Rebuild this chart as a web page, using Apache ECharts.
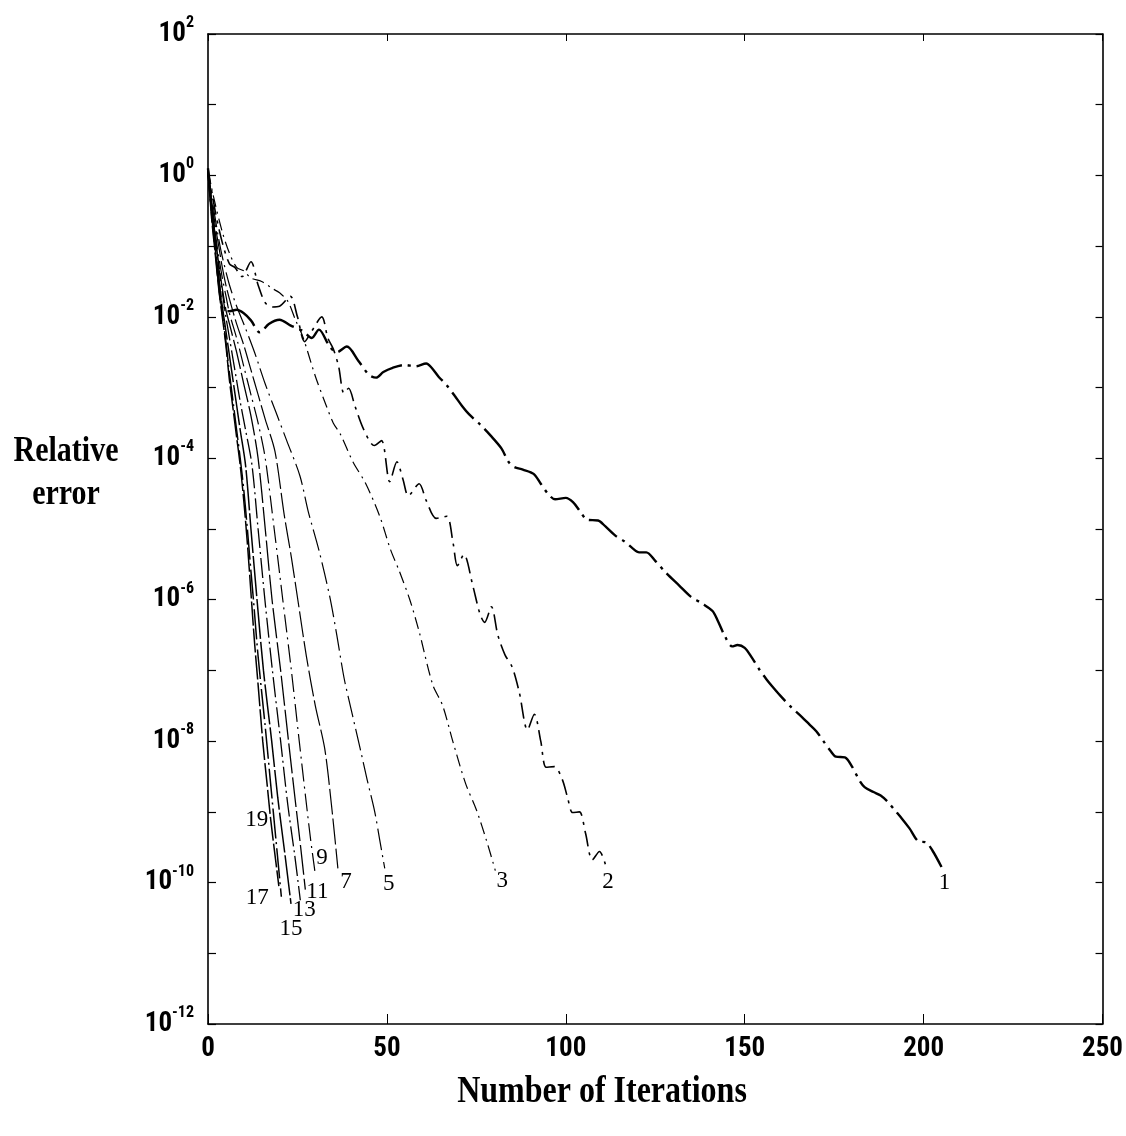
<!DOCTYPE html>
<html>
<head>
<meta charset="utf-8">
<script src="https://cdn.jsdelivr.net/npm/echarts@6/dist/echarts.min.js"></script>
<style>
html,body{margin:0;padding:0;background:#fff;}
#c{width:1126px;height:1136px;}
</style>
</head>
<body>
<div id="c"></div>
<script>
// x: iteration number, y: log10(relative error)
const xTicks = [0, 50, 100, 150, 200, 250];
const yExponents = [2, 0, -2, -4, -6, -8, -10, -12];
const curveNames = ['1', '2', '3', '5', '7', '9', '11', '13', '15', '17', '19'];

const curve1 = [[0,0.1],[1,-0.45],[2,-0.95],[3,-1.5],[4.2,-1.9],[6,-1.92],[8,-1.9],[10,-1.95],[12,-2.05],[14.5,-2.22],[17,-2.1],[20,-2.04],[23,-2.12],[26.5,-2.2],[29,-2.3],[31,-2.18],[34,-2.42],[36,-2.5],[38.8,-2.42],[42,-2.62],[45,-2.82],[47,-2.86],[49,-2.78],[51.6,-2.72],[55,-2.68],[58,-2.7],[61,-2.66],[62.5,-2.72],[64.5,-2.85],[66.6,-2.96],[69,-3.12],[71,-3.26],[73,-3.38],[76,-3.52],[79,-3.68],[82,-3.86],[84,-4.05],[85.5,-4.12],[88,-4.16],[91,-4.22],[93,-4.36],[95,-4.5],[97,-4.58],[100,-4.56],[102,-4.62],[104,-4.75],[106,-4.87],[109,-4.88],[111,-4.96],[114,-5.1],[116.5,-5.18],[118.6,-5.27],[120.5,-5.33],[122.5,-5.33],[125,-5.45],[128,-5.62],[131.7,-5.8],[135,-5.96],[138,-6.05],[141,-6.16],[142.5,-6.3],[144.5,-6.52],[146.5,-6.66],[148,-6.64],[150,-6.68],[152,-6.82],[154,-6.98],[156,-7.12],[157.6,-7.22],[160,-7.36],[163,-7.52],[166,-7.66],[168,-7.76],[170,-7.86],[172,-8.0],[174,-8.14],[175.5,-8.22],[178,-8.23],[180,-8.36],[182,-8.55],[183.5,-8.65],[186,-8.72],[188,-8.77],[190,-8.86],[192,-8.98],[194,-9.1],[196,-9.23],[198.7,-9.42],[200.6,-9.43],[202.5,-9.55],[205,-9.78]];

const curve2 = [[0,0.1],[2,-0.5],[4,-0.95],[6,-1.25],[7.5,-1.3],[9.5,-1.43],[12,-1.22],[14,-1.55],[16,-1.8],[18,-1.86],[20,-1.85],[23,-1.71],[25,-2.0],[27,-2.35],[29,-2.2],[31.8,-2.0],[33.5,-2.3],[35,-2.45],[36.5,-2.7],[38,-3.08],[39.3,-3.01],[41,-3.25],[43.5,-3.59],[46.5,-3.82],[48.5,-3.75],[50.8,-4.33],[52.8,-4.05],[54.5,-4.3],[56,-4.53],[59,-4.36],[61,-4.6],[63.8,-4.85],[66.7,-4.82],[68.5,-5.2],[69.7,-5.52],[71.5,-5.36],[74,-5.8],[76,-6.2],[77.3,-6.32],[79.2,-6.1],[81,-6.5],[83,-6.78],[85,-6.95],[87,-7.31],[89.3,-7.84],[91.2,-7.62],[93,-8.0],[94.5,-8.37],[96.8,-8.36],[99,-8.54],[100.5,-8.8],[101.9,-9.01],[103.8,-9.0],[105.5,-9.3],[107.4,-9.68],[109.4,-9.56],[111.2,-9.77]];

const curve3 = [[0,0.05],[2,-0.4],[4,-0.8],[6,-1.1],[8,-1.3],[10,-1.35],[12,-1.45],[15,-1.5],[18,-1.6],[20,-1.66],[22.3,-1.78],[24.5,-2.05],[26.5,-2.28],[30,-2.84],[33,-3.25],[35,-3.5],[37,-3.66],[40.6,-4.06],[44,-4.35],[48,-4.82],[51,-5.29],[53.5,-5.6],[56.4,-6.0],[59,-6.45],[62.8,-7.2],[65.6,-7.5],[68.4,-8.0],[72,-8.6],[75,-8.97],[77.8,-9.4],[80.3,-9.83]];

const curve5 = [[0,0.05],[1,-0.3],[2,-0.6],[3,-0.9],[4,-1.15],[6,-1.55],[8,-1.85],[10,-2.1],[13,-2.5],[16,-2.95],[19,-3.35],[22,-3.75],[25.7,-4.25],[28,-4.75],[31,-5.3],[34,-5.95],[36,-6.5],[38,-7.1],[40,-7.55],[42.5,-8.1],[44.5,-8.55],[46.6,-9.0],[48,-9.4],[49.4,-9.8]];

const curve7 = [[0,0.05],[1,-0.35],[2,-0.7],[3,-1.0],[4,-1.3],[5,-1.55],[6,-1.75],[8,-2.1],[10,-2.4],[12,-2.75],[14,-3.1],[16,-3.45],[18.7,-3.9],[21.3,-4.8],[23.3,-5.4],[25.1,-6.0],[27.5,-6.8],[30,-7.5],[32.6,-8.1],[34.5,-8.9],[36.3,-9.8]];

const curve9 = [[0,0.05],[1,-0.4],[2,-0.8],[3,-1.15],[4,-1.45],[5,-1.7],[6,-1.95],[8,-2.3],[10,-2.7],[12,-3.1],[14,-3.5],[16,-4.0],[18.5,-5.0],[20.9,-6.0],[23.3,-7.0],[25.5,-8.0],[27.3,-8.8],[28.7,-9.4],[29.9,-9.85]];

const curve11 = [[0,0.05],[1,-0.4],[2,-0.85],[3,-1.25],[4,-1.6],[5,-1.9],[6,-2.1],[8,-2.5],[10,-2.95],[12,-3.4],[14,-4.0],[16,-5.0],[17.9,-6.0],[20.3,-7.0],[22.5,-8.0],[24.3,-8.8],[25.9,-9.5],[27.2,-10.1]];

const curve13 = [[0,0.05],[1,-0.45],[2,-0.9],[3,-1.3],[4,-1.65],[5,-2.0],[6,-2.3],[7,-2.6],[8,-2.9],[9,-3.2],[10.5,-3.6],[12.3,-4.1],[14,-5.0],[15.9,-6.0],[18,-7.0],[20.3,-8.0],[22.3,-8.9],[24.2,-9.6],[25.8,-10.25]];

const curve15 = [[0,0.05],[1,-0.5],[2,-1.0],[3,-1.45],[4,-1.85],[5,-2.2],[6,-2.55],[7,-2.9],[8,-3.25],[9,-3.6],[10.5,-4.1],[12,-5.0],[13.7,-6.0],[15.5,-7.0],[17.8,-8.0],[19.5,-8.8],[21.5,-9.6],[23.2,-10.3]];

const curve17 = [[0,0.05],[1,-0.55],[2,-1.05],[3,-1.55],[4,-1.95],[5,-2.35],[6,-2.8],[7,-3.2],[8,-3.6],[9,-4.0],[10,-4.45],[11,-5.0],[12,-5.6],[12.7,-6.0],[14,-6.8],[16,-7.8],[17.5,-8.6],[19,-9.4],[20.5,-10.2]];

const curve19 = [[0,0.05],[1,-0.6],[2,-1.1],[3,-1.6],[4,-2.0],[5,-2.4],[6,-2.9],[7,-3.3],[8,-3.7],[9,-4.1],[10,-4.6],[11,-5.2],[12,-5.9],[13,-6.6],[14,-7.2],[15.3,-8.0],[16.5,-8.6],[17.5,-9.1],[18.7,-9.6],[19.8,-10.05]];

const curveData = [curve1, curve2, curve3, curve5, curve7, curve9, curve11, curve13, curve15, curve17, curve19];

// styles (not data)
const styles = [
  {w: 2.4, dash: [34, 6, 3, 6]},
  {w: 1.6, dash: [16, 6, 3, 6]},
  {w: 1.2, dash: [12, 5, 2, 5]},
  {w: 1.2, dash: [22, 5, 2, 5]},
  {w: 1.2, dash: [26, 4]},
  {w: 1.2, dash: [18, 5, 2, 5]},
  {w: 1.3, dash: [30, 4]},
  {w: 1.3, dash: [20, 4, 2, 4]},
  {w: 1.5, dash: [40, 3]},
  {w: 1.5, dash: [30, 4, 2, 4]},
  {w: 1.5, dash: [24, 3]}
];
const labelOffsets = [[3,16],[2,16],[7,10],[4,16],[8,14],[7,-14],[12,2],[4,10],[0,25],[-24,1],[-22,-66]];

const narrow = "'Liberation Sans Narrow','Roboto Condensed','DejaVu Sans Condensed','Arial Narrow',sans-serif";
const serif = "'Liberation Serif','DejaVu Serif',serif";

const series = curveData.map((d, i) => ({
  name: curveNames[i],
  type: 'line',
  data: d,
  showSymbol: false,
  smooth: 0.3,
  xAxisIndex: 0,
  yAxisIndex: 0,
  lineStyle: {color: '#000', width: styles[i].w, type: styles[i].dash},
  z: 2,
  markPoint: {
    symbol: 'circle',
    symbolSize: 1,
    itemStyle: {color: 'rgba(0,0,0,0)'},
    label: {
      show: true, formatter: curveNames[i], color: '#000',
      fontFamily: serif, fontSize: 23, offset: labelOffsets[i]
    },
    data: [{coord: d[d.length - 1]}]
  }
}));

const chart = echarts.init(document.getElementById('c'), null, {renderer: 'canvas'});
const axisLineStyle = {show: true, onZero: false, lineStyle: {color: '#000', width: 1.6}};
chart.setOption({
  animation: false,
  backgroundColor: '#fff',
  grid: {left: 208, right: 22, top: 34, bottom: 112, containLabel: false},
  xAxis: [
    {
      type: 'value', min: 0, max: 250, interval: 50, position: 'bottom',
      axisLine: axisLineStyle,
      axisTick: {show: true, inside: true, length: 10, lineStyle: {color: '#000', width: 1}},
      splitLine: {show: false},
      axisLabel: {
        margin: 12, color: '#000', fontFamily: narrow, fontWeight: 'bold', fontSize: 27,
        formatter: v => xTicks.indexOf(v) >= 0 ? String(v) : ''
      }
    },
    {
      type: 'value', min: 0, max: 250, interval: 50, position: 'top',
      axisLine: axisLineStyle,
      axisTick: {show: true, inside: true, length: 7, lineStyle: {color: '#000', width: 1}},
      splitLine: {show: false}, axisLabel: {show: false}
    }
  ],
  yAxis: [
    {
      type: 'value', min: -12, max: 2, interval: 1, position: 'left',
      axisLine: axisLineStyle,
      axisTick: {show: true, inside: true, length: 8, lineStyle: {color: '#000', width: 1.2}},
      splitLine: {show: false},
      axisLabel: {
        margin: 14, color: '#000',
        formatter: v => yExponents.indexOf(v) >= 0 ? '{b|10}{s|' + v + '}' : '',
        rich: {
          b: {fontFamily: narrow, fontWeight: 'bold', fontSize: 27, lineHeight: 27, color: '#000'},
          s: {fontFamily: narrow, fontWeight: 'bold', fontSize: 16, lineHeight: 16, padding: [0, 0, 22, 0], color: '#000'}
        }
      }
    },
    {
      type: 'value', min: -12, max: 2, interval: 1, position: 'right',
      axisLine: axisLineStyle,
      axisTick: {show: true, inside: true, length: 7, lineStyle: {color: '#000', width: 1.2}},
      splitLine: {show: false}, axisLabel: {show: false}
    }
  ],
  graphic: [
    {
      type: 'text', x: 66, y: 473, z: 10, scaleY: 1.2,
      style: {
        text: 'Relative\nerror', fill: '#000',
        font: "bold 30px 'Liberation Serif', serif",
        align: 'center', verticalAlign: 'middle', lineHeight: 36
      }
    },
    {
      type: 'text', x: 602, y: 1092, z: 10, scaleY: 1.2,
      style: {
        text: 'Number of Iterations', fill: '#000',
        font: "bold 32px 'Liberation Serif', serif",
        align: 'center', verticalAlign: 'middle'
      }
    }
  ],
  series: series
});
</script>
</body>
</html>
